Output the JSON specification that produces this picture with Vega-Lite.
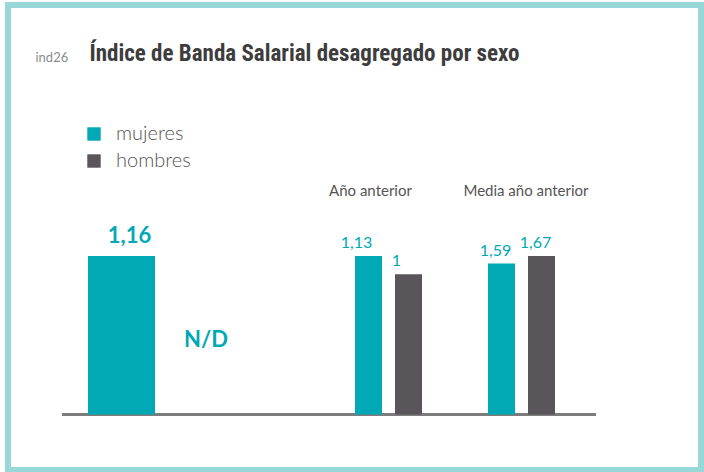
{
  "$schema": "https://vega.github.io/schema/vega-lite/v6.json",
  "width": 693,
  "height": 465,
  "autosize": {"type": "none"},
  "padding": {"left": 8, "top": 5, "right": 3, "bottom": 2},
  "background": "white",
  "config": {
    "view": {"stroke": "#99d8d8", "strokeWidth": 6},
    "font": "Lato",
    "axis": {"grid": false}
  },
  "data": {
    "values": [
      {"grupo": "Actual", "sexo": "mujeres", "valor": 1.16, "etiqueta": "1,16"},
      {"grupo": "Actual", "sexo": "hombres", "valor": null, "etiqueta": "N/D"},
      {"grupo": "Año anterior", "sexo": "mujeres", "valor": 1.13, "etiqueta": "1,13"},
      {"grupo": "Año anterior", "sexo": "hombres", "valor": 1, "etiqueta": "1"},
      {"grupo": "Media año anterior", "sexo": "mujeres", "valor": 1.59, "etiqueta": "1,59"},
      {"grupo": "Media año anterior", "sexo": "hombres", "valor": 1.67, "etiqueta": "1,67"}
    ]
  },
  "resolve": {"scale": {"x": "independent", "y": "independent"}},
  "layer": [
    {
      "transform": [{"aggregate": [{"op": "count", "as": "n"}]}],
      "mark": {"type": "rule", "color": "#7d7d7d", "strokeWidth": 3},
      "encoding": {
        "x": {"datum": 0, "type": "quantitative", "scale": {"domain": [0, 1], "range": [54, 588], "nice": false}, "axis": null},
        "x2": {"datum": 1},
        "y": {"datum": 0, "type": "quantitative", "scale": {"domain": [-0.35016, 2.5836], "nice": false}, "axis": null}
      }
    },
    {
      "transform": [{"filter": "datum.grupo === 'Actual'"}],
      "encoding": {
        "x": {
          "field": "sexo", "type": "nominal",
          "scale": {"domain": ["mujeres", "hombres"], "range": [73.5, 233.5], "paddingInner": 0, "paddingOuter": 0},
          "axis": {
            "orient": "top", "title": "Índice de Banda Salarial desagregado por sexo",
            "labels": false, "ticks": false, "domain": false,
            "titleX": 81, "titleY": 55.5, "titleAlign": "left", "titleBaseline": "alphabetic",
            "titleFont": "Liberation Sans Narrow, Roboto Condensed, DejaVu Sans Condensed, sans-serif",
            "titleFontSize": 23, "titleFontWeight": "bold", "titleColor": "#3d3d3d"
          }
        },
        "y": {
          "field": "valor", "type": "quantitative",
          "scale": {"domain": [-0.4062, 2.997], "nice": false},
          "axis": {
            "orient": "left", "title": "ind26",
            "labels": false, "ticks": false, "domain": false,
            "titleAngle": 0, "titleX": 27, "titleY": 56.7, "titleAlign": "left", "titleBaseline": "alphabetic",
            "titleFont": "Lato", "titleFontSize": 13, "titleFontWeight": "normal", "titleColor": "#8c8c8c"
          }
        }
      },
      "layer": [
        {
          "mark": {"type": "bar", "width": 67, "invalid": null},
          "encoding": {
            "color": {
              "field": "sexo", "type": "nominal",
              "scale": {"domain": ["mujeres", "hombres"], "range": ["#00a9b5", "#59555b"]},
              "legend": {
                "orient": "none", "legendX": 76, "legendY": 119, "title": null,
                "direction": "vertical",
                "symbolType": "square", "symbolSize": 180, "symbolStrokeWidth": 0,
                "labelFontSize": 20, "labelFont": "Lato", "labelFontWeight": 300,
                "labelColor": "#555555", "labelOffset": 12, "rowPadding": 7
              }
            }
          }
        },
        {
          "transform": [{"filter": "datum.sexo === 'mujeres'"}],
          "mark": {"type": "text", "baseline": "alphabetic", "dy": -13, "dx": 8, "fontSize": 22, "fontWeight": "bold", "color": "#00a9b5"},
          "encoding": {"text": {"field": "etiqueta"}}
        },
        {
          "transform": [{"filter": "datum.sexo === 'hombres'"}],
          "mark": {"type": "text", "baseline": "middle", "dy": -74, "dx": 4.5, "fontSize": 22, "fontWeight": "bold", "color": "#00a9b5", "invalid": null},
          "encoding": {"text": {"field": "etiqueta"}, "y": {"datum": 0, "type": "quantitative"}}
        }
      ]
    },
    {
      "transform": [{"filter": "datum.grupo === 'Año anterior'"}],
      "encoding": {
        "x": {
          "field": "sexo", "type": "nominal",
          "scale": {"domain": ["mujeres", "hombres"], "range": [340.5, 420.5], "paddingInner": 0, "paddingOuter": 0},
          "axis": {
            "orient": "top", "title": "Año anterior",
            "labels": false, "ticks": false, "domain": false,
            "titleX": 362, "titleY": 190, "titleAlign": "center", "titleBaseline": "alphabetic",
            "titleFont": "Lato", "titleFontSize": 15, "titleFontWeight": "normal", "titleColor": "#555555"
          }
        },
        "y": {
          "field": "valor", "type": "quantitative",
          "scale": {"domain": [-0.3957, 2.9195], "nice": false},
          "axis": null
        }
      },
      "layer": [
        {
          "mark": {"type": "bar", "width": 27},
          "encoding": {
            "color": {"field": "sexo", "type": "nominal", "scale": {"domain": ["mujeres", "hombres"], "range": ["#00a9b5", "#59555b"]}, "legend": null}
          }
        },
        {
          "mark": {"type": "text", "baseline": "alphabetic", "dy": -8, "dx": -12, "fontSize": 16, "color": "#00a9b5"},
          "encoding": {"text": {"field": "etiqueta"}}
        }
      ]
    },
    {
      "transform": [{"filter": "datum.grupo === 'Media año anterior'"}],
      "encoding": {
        "x": {
          "field": "sexo", "type": "nominal",
          "scale": {"domain": ["mujeres", "hombres"], "range": [473.5, 553.5], "paddingInner": 0, "paddingOuter": 0},
          "axis": {
            "orient": "top", "title": "Media año anterior",
            "labels": false, "ticks": false, "domain": false,
            "titleX": 517.5, "titleY": 190, "titleAlign": "center", "titleBaseline": "alphabetic",
            "titleFont": "Lato", "titleFontSize": 15, "titleFontWeight": "normal", "titleColor": "#555555"
          }
        },
        "y": {
          "field": "valor", "type": "quantitative",
          "scale": {"domain": [-0.5848, 4.3146], "nice": false},
          "axis": null
        }
      },
      "layer": [
        {
          "mark": {"type": "bar", "width": 27},
          "encoding": {
            "color": {"field": "sexo", "type": "nominal", "scale": {"domain": ["mujeres", "hombres"], "range": ["#00a9b5", "#59555b"]}, "legend": null}
          }
        },
        {
          "mark": {"type": "text", "baseline": "alphabetic", "dy": -8, "dx": -6, "fontSize": 16, "color": "#00a9b5"},
          "encoding": {"text": {"field": "etiqueta"}}
        }
      ]
    }
  ]
}
